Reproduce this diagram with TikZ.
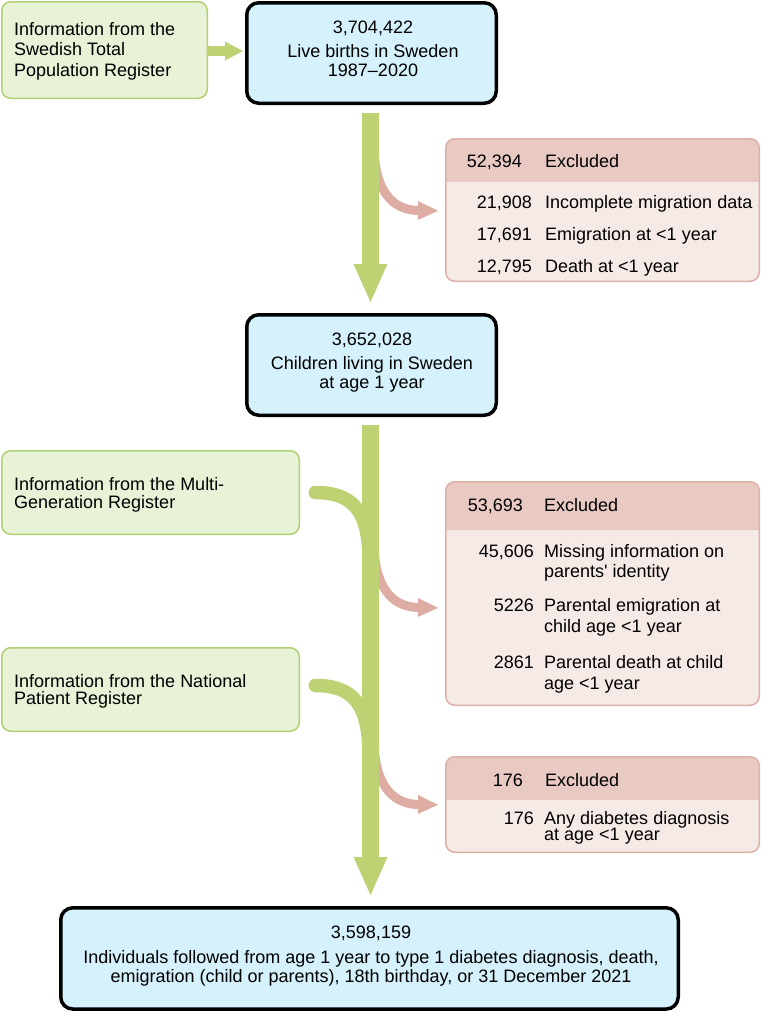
\documentclass[tikz,border=0pt]{standalone}
\usepackage{fontspec}
\setmainfont{Liberation Sans}[Ligatures=TeXOff]
\usetikzlibrary{arrows.meta}
\definecolor{gfill}{HTML}{E7F2D6}
\definecolor{gborder}{HTML}{AFD075}
\definecolor{garrow}{HTML}{BDD272}
\definecolor{bfill}{HTML}{D4F1FC}
\definecolor{phead}{HTML}{E8CAC3}
\definecolor{pbody}{HTML}{F6EAE7}
\definecolor{pborder}{HTML}{DCB1A8}
\definecolor{parrow}{HTML}{DDADA4}
\begin{document}
\begin{tikzpicture}[x=1pt,y=-1pt,
  greenbox/.style={draw=gborder, fill=gfill, line width=1.5pt, rounded corners=9pt, outer sep=0pt, inner sep=0pt},
  bluebox/.style={draw=black, fill=bfill, line width=3.5pt, rounded corners=12pt, outer sep=0pt, inner sep=0pt},
  exbox/.style={fill=pbody, rounded corners=9pt, outer sep=0pt, inner sep=0pt},
  exborder/.style={draw=pborder, line width=1.5pt, rounded corners=9pt},
  lefttext/.style={anchor=base west, align=left, inner sep=0pt},
  centertext/.style={anchor=base, align=center, inner sep=0pt, font=\fontsize{18}{19}\selectfont},
  exnum/.style={anchor=base east, inner sep=0pt, font=\fontsize{18}{20}\selectfont},
  extxt/.style={anchor=base west, align=left, inner sep=0pt},
  mainarrow/.style={draw=garrow, line width=17pt, -{Triangle[length=38pt,width=34pt,line width=0pt]}},
  smallarrow/.style={draw=garrow, line width=10pt, -{Triangle[length=18pt,width=19pt,line width=0pt]}},
  pinkarrow/.style={draw=parrow, line width=9pt, -{Triangle[length=20pt,width=19pt,line width=0pt]}},
  mergeline/.style={draw=garrow, line width=13.5pt, line cap=round}
]
\useasboundingbox (0,0) rectangle (762,1012);

% ---------- green information boxes (text nodes anchored at the baseline of their last line) ----------
\node[greenbox, minimum width=205.5pt, minimum height=96.5pt] (g1) at (104.5,50) {};
\node[lefttext, font=\fontsize{18}{20.5}\selectfont] (g1t) at (14,76) {Information from the\\Swedish Total\\Population Register};
\node[greenbox, minimum width=297.5pt, minimum height=83.5pt] (g2) at (150.5,492.5) {};
\node[lefttext, font=\fontsize{18}{18}\selectfont] (g2t) at (14,508) {Information from the Multi-\\Generation Register};
\node[greenbox, minimum width=297.5pt, minimum height=83.5pt] (g3) at (150.5,689.5) {};
\node[lefttext, font=\fontsize{18}{17.5}\selectfont] (g3t) at (14,704.5) {Information from the National\\Patient Register};

% ---------- blue population boxes ----------
\node[bluebox, minimum width=249.5pt, minimum height=100.5pt] (b1) at (371.5,53) {};
\node[centertext] (b1t) at (373,76) {3,704,422\\[5pt]Live births in Sweden\\1987–2020};
\node[bluebox, minimum width=249.5pt, minimum height=100.5pt] (b2) at (371.5,365) {};
\node[centertext] (b2t) at (372,388) {3,652,028\\[5pt]Children living in Sweden\\at age 1 year};
\node[bluebox, minimum width=617.5pt, minimum height=101.25pt] (b3) at (369.5,958.4) {};
\node[centertext] (b3t) at (371,982) {3,598,159\\[6pt]Individuals followed from age 1 year to type 1 diabetes diagnosis, death,\\emigration (child or parents), 18th birthday, or 31 December 2021};

% ---------- exclusion boxes ----------
\node[exbox, minimum width=313.5pt, minimum height=142.5pt] (e1) at (602.5,210) {};
\begin{scope}
  \clip[rounded corners=9pt] (e1.north west) rectangle (e1.south east);
  \fill[phead] (e1.north west) rectangle (e1.east |- 0,182);
\end{scope}
\draw[exborder] (e1.north west) rectangle (e1.south east);
\node[exnum] (e1h) at (522,167) {52,394};
\node[extxt, font=\fontsize{18}{20}\selectfont] (e1ht) at (545,167) {Excluded};
\node[exnum] (e1n1) at (532,208) {21,908};
\node[extxt, font=\fontsize{18}{20}\selectfont] (e1r1) at (545,208) {Incomplete migration data};
\node[exnum] (e1n2) at (532,240) {17,691};
\node[extxt, font=\fontsize{18}{20}\selectfont] (e1r2) at (545,240) {Emigration at <1 year};
\node[exnum] (e1n3) at (532,272) {12,795};
\node[extxt, font=\fontsize{18}{20}\selectfont] (e1r3) at (545,272) {Death at <1 year};

\node[exbox, minimum width=313.5pt, minimum height=223.5pt] (e2) at (602.5,593.5) {};
\begin{scope}
  \clip[rounded corners=9pt] (e2.north west) rectangle (e2.south east);
  \fill[phead] (e2.north west) rectangle (e2.east |- 0,530);
\end{scope}
\draw[exborder] (e2.north west) rectangle (e2.south east);
\node[exnum] (e2h) at (523,511) {53,693};
\node[extxt, font=\fontsize{18}{20}\selectfont] (e2ht) at (544,511) {Excluded};
\node[exnum] (e2n1) at (534,557) {45,606};
\node[extxt, font=\fontsize{18}{20}\selectfont] (e2r1) at (544,577) {Missing information on\\parents' identity};
\node[exnum] (e2n2) at (534,611) {5226};
\node[extxt, font=\fontsize{18}{21}\selectfont] (e2r2) at (544,632) {Parental emigration at\\child age <1 year};
\node[exnum] (e2n3) at (534,668) {2861};
\node[extxt, font=\fontsize{18}{21}\selectfont] (e2r3) at (544,689) {Parental death at child\\age <1 year};

\node[exbox, minimum width=313.5pt, minimum height=95.5pt] (e3) at (602.5,804.5) {};
\begin{scope}
  \clip[rounded corners=9pt] (e3.north west) rectangle (e3.south east);
  \fill[phead] (e3.north west) rectangle (e3.east |- 0,800);
\end{scope}
\draw[exborder] (e3.north west) rectangle (e3.south east);
\node[exnum] (e3h) at (523,786) {176};
\node[extxt, font=\fontsize{18}{20}\selectfont] (e3ht) at (545,786) {Excluded};
\node[exnum] (e3n1) at (534,824) {176};
\node[extxt, font=\fontsize{18}{16.5}\selectfont] (e3r1) at (544,840.5) {Any diabetes diagnosis\\at age <1 year};

% ---------- connector coordinates ----------
\coordinate (p1) at (374,145);
\coordinate (p2) at (374,542);
\coordinate (p3) at (374,739);
\coordinate (m1) at (369,560);
\coordinate (m2) at (369,755);

% ---------- pink exclusion arrows (behind the main flow) ----------
\draw[pinkarrow, shorten >=7.75pt] (p1) .. controls (374,190) and (392,210) .. (e1.west |- 0,211);
\draw[pinkarrow, shorten >=7.75pt] (p2) .. controls (374,587) and (392,607) .. (e2.west |- 0,608);
\draw[pinkarrow, shorten >=7.75pt] (p3) .. controls (374,784) and (392,804) .. (e3.west |- 0,805);

% ---------- green merging lines ----------
\draw[mergeline] ([xshift=16pt]g2.east) .. controls (352,492.5) and (369,510) .. (m1);
\draw[mergeline] ([xshift=16pt]g3.east |- 0,685.5) .. controls (352,685.5) and (369,703) .. (m2);

% ---------- main flow arrows ----------
\draw[smallarrow, shorten >=3.75pt] (g1.east |- 0,51) -- (b1.west |- 0,51);
\draw[mainarrow, shorten <=9.75pt, shorten >=12.75pt] (b1.south -| 370.5,0) -- (b2.north -| 370.5,0);
\draw[mainarrow, shorten <=9.75pt, shorten >=12.75pt] (b2.south -| 370.5,0) -- (b3.north -| 370.5,0);
\end{tikzpicture}
\end{document}
